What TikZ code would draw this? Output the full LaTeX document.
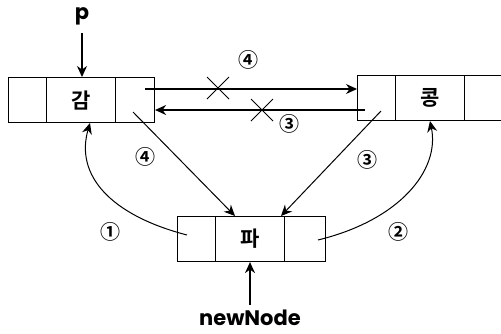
\documentclass[tikz,border=0pt]{standalone}
\usepackage{fontspec}
\setmainfont{Poppins}[BoldFont={Poppins Bold}]
\newfontfamily\korfont{Noto Sans CJK KR Bold}
\usetikzlibrary{arrows.meta}
\begin{document}
\begin{tikzpicture}[x=1pt,y=-1pt,
  cell/.style={draw,line width=1.1pt,minimum height=45pt,inner sep=0pt,anchor=north west},
  sidecell/.style={cell,minimum width=38pt},
  midcell/.style={cell,minimum width=69pt,font=\korfont\fontsize{21}{21}\selectfont},
  conn/.style={line width=1.2pt,-{Stealth[length=11pt,width=10pt]}},
  thin/.style={line width=1pt,-{Stealth[length=11pt,width=10pt]}},
  lbl/.style={font=\bfseries\fontsize{21}{21}\selectfont,inner sep=0pt},
  num/.style={font=\korfont\fontsize{20}{20}\selectfont,inner sep=0pt},
  cross/.style={line width=0.9pt}]
\useasboundingbox (0,0) rectangle (501,333);
% left node
\node[sidecell] (a1) at (8,77) {};
\node[midcell] (a2) at (46,77) {감};
\node[sidecell,minimum width=39pt] (a3) at (115,77) {};
% right node
\node[sidecell] (b1) at (357,75) {};
\node[midcell] (b2) at (395,75) {콩};
\node[sidecell] (b3) at (464,75) {};
% new node
\node[sidecell] (c1) at (177,216) {};
\node[midcell] (c2) at (215,216) {파};
\node[sidecell,minimum width=41pt] (c3) at (284,216) {};
% labels
\node[lbl] (p) at (82,16) {p};
\node[lbl] (nn) at (250,318) {newNode};
\coordinate (pa) at (82,33);
\coordinate (na) at (250,305);
\draw[conn] (pa) -- (a2.north -| pa);
\draw[conn] (na) -- (c2.south -| na);
% horizontal links
\coordinate (s1) at (145,89);
\coordinate (s2) at (365,110);
\draw[conn] (s1) -- (b1.west |- s1);
\draw[conn] (s2) -- (a3.east |- s2);
\draw[cross] (207,77) -- (229,99) (207,99) -- (229,77);
\draw[cross] (251,99) -- (273,121) (251,121) -- (273,99);
\node[num] (n4a) at (248,60) {④};
\node[num] (n3a) at (289,124) {③};
% diagonal links
\coordinate (d1) at (133,112);
\coordinate (d2) at (381,111);
\draw[thin] (d1) -- (235,216);
\draw[thin] (d2) -- (281,216);
\node[num] (n4b) at (145,157) {④};
\node[num] (n3b) at (367,160) {③};
% curves
\coordinate (e1) at (187,235);
\coordinate (e2) at (318,240);
\draw[thin] (e1) .. controls (110,215) and (75,175) .. (90,123);
\draw[thin] (e2) .. controls (400,220) and (440,170) .. (430,121);
\node[num] (n1) at (110,232) {①};
\node[num] (n2) at (398,232) {②};
\end{tikzpicture}
\end{document}
